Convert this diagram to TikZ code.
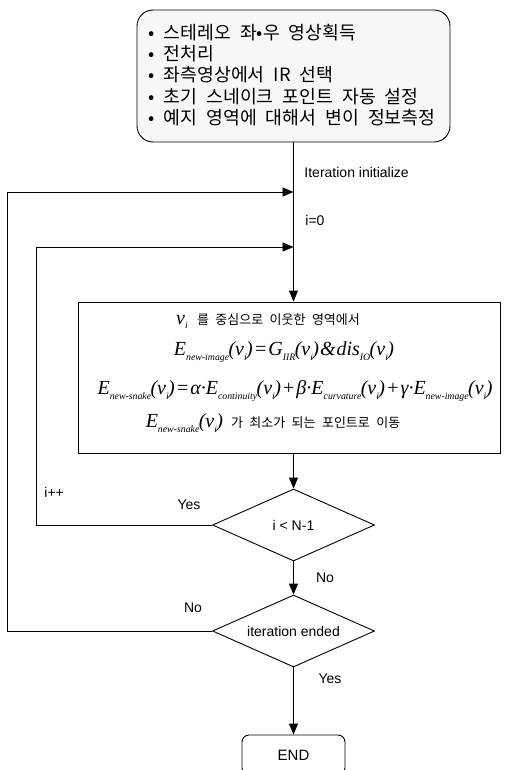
\documentclass[tikz,border=0pt]{standalone}
\usepackage{fontspec}
\setmainfont{Liberation Sans}
\newfontfamily\kr[WordSpace=2.6]{Noto Sans CJK KR}
\newfontfamily\krb[WordSpace=2.2]{Noto Sans CJK KR}
\newfontfamily\tms{Liberation Serif}
\usetikzlibrary{shapes.geometric,arrows.meta}
\newcommand{\Ts}[1]{\raisebox{-0.5ex}{\fontsize{9.8}{10}\selectfont #1}\hspace{-0.6pt}}
\newcommand{\Fm}{\tms\itshape\fontsize{20}{23}\selectfont}
\newcommand{\Op}[1]{\hspace{1pt}#1\hspace{1pt}}
\begin{document}
\begin{tikzpicture}[x=1pt,y=-1pt,
  line width=0.9pt,
  arr/.style={-{Triangle[length=11pt,width=9pt]}},
  lbl/.style={font=\fontsize{14}{16}\selectfont, inner sep=0pt},
  txt/.style={inner sep=0pt},
  dec/.style={draw, shape=diamond, aspect=2.25, minimum width=162pt, minimum height=72pt, inner sep=0pt, font=\fontsize{14}{16}\selectfont}
]
\useasboundingbox (0,0) rectangle (505,770);
\clip (0,0) rectangle (505,770);
\node[draw, rounded corners=16pt, fill=black!3, minimum width=313pt, minimum height=132pt, inner sep=0pt] (top) at (293.5,76) {};
\node[anchor=west, align=left, inner sep=0pt, font=\kr\fontsize{18.3}{21.3}\selectfont] (toptext) at (148,75)
 {• 스테레오 좌•우 영상획득\\ • 전처리\\ • 좌측영상에서 IR 선택\\ • 초기 스네이크 포인트 자동 설정\\ • 예지 영역에 대해서 변이 정보측정};
\node[draw, minimum width=422pt, minimum height=151pt, inner sep=0pt] (main) at (289,377.5) {};
\node[txt] (m1) at (268,321) {{\Fm v\Ts{i}}\hspace{10pt}{\krb\fontsize{13}{14}\selectfont 를 중심으로 이웃한 영역에서}};
\node[txt] (m2) at (284,352) {\Fm E\Ts{new-image}(v\Ts{i})\Op{=}G\Ts{IIR}(v\Ts{i})\Op{\&}dis\Ts{IO}(v\Ts{i})};
\node[txt] (m3) at (295,391) {\Fm E\Ts{new-snake}(v\Ts{i})\Op{=}α·E\Ts{continuity}(v\Ts{i})\Op{+}β·E\Ts{curvature}(v\Ts{i})\Op{+}γ·E\Ts{new-image}(v\Ts{i})};
\node[txt] (m4) at (273,423) {{\Fm E\Ts{new-snake}(v\Ts{i})}\hspace{8pt}{\krb\fontsize{13}{14}\selectfont 가 최소가 되는 포인트로 이동}};
\coordinate (j1) at (293.5,192);
\coordinate (j2) at (293.5,247);
\node[dec] (d1) at (293.5,525) {i < N-1};
\node[dec] (d2) at (293.5,631) {iteration ended};
\node[draw, rounded corners=7pt, minimum width=103pt, minimum height=40pt, font=\fontsize{15}{17}\selectfont] (end) at (293.5,755) {END};
\draw[arr] (top.south) -- (top.south |- main.north);
\draw[arr] (d1.north |- main.south) -- (d1.north);
\draw[arr] (d1.south) -- (d2.north);
\draw[arr] (d2.south) -- (end.north);
\draw[arr] (d2.west) -- ++(-205,0) |- (j1);
\draw[arr] (d1.west) -- ++(-176,0) |- (j2);
\node[lbl, anchor=west] (l1) at (304,172) {Iteration initialize};
\node[lbl, anchor=west] (l2) at (305,220) {i=0};
\node[lbl, anchor=west] (l3) at (44,492) {i++};
\node[lbl] (l4) at (189,505) {Yes};
\node[lbl] (l5) at (325,578) {No};
\node[lbl] (l6) at (193,608) {No};
\node[lbl] (l7) at (330,679) {Yes};
\end{tikzpicture}
\end{document}
